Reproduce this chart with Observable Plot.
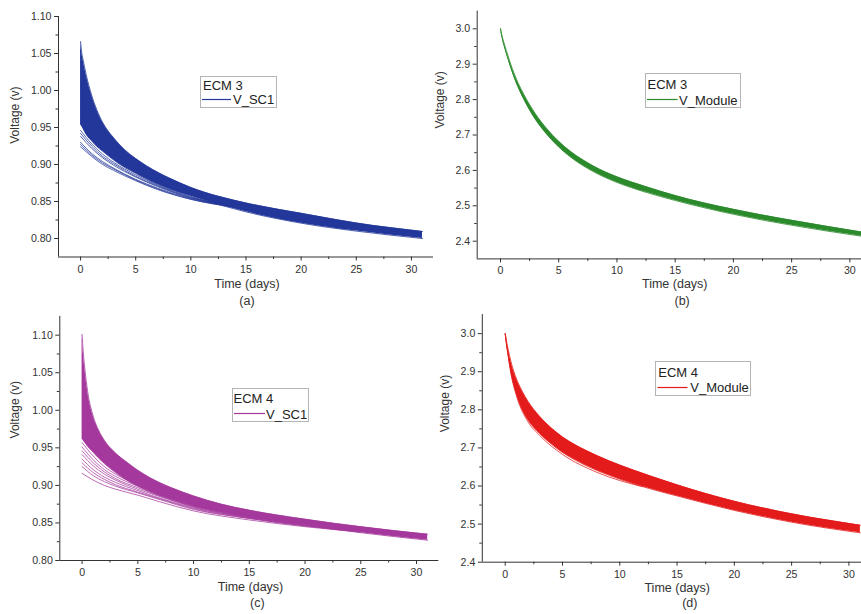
<!DOCTYPE html>
<html>
<head>
<meta charset="utf-8">
<script src="https://cdn.jsdelivr.net/npm/d3@7"></script>
<script src="https://cdn.jsdelivr.net/npm/@observablehq/plot@0.6"></script>
<style>
  body { margin: 0; background: #fff; }
  #fig { position: relative; width: 861px; height: 614px; overflow: hidden;
         font-family: "Liberation Sans", Arial, sans-serif; color: #222; }
  .panel { position: absolute; }
  .legend { position: absolute; border: 1px solid #b4b4b4; background: #fff; box-sizing: border-box; font-size: 13px; }
  .legend span { position: absolute; white-space: nowrap; line-height: 1; }
  .legend svg { position: absolute; left: 0; top: 0; overflow: visible; }
</style>
</head>
<body>
<div id="fig"></div>
<script>
// Self-discharge of the supercapacitor cell (V_SC1) and module (V_Module) over 31 days,
// for equivalent circuit models ECM 3 and ECM 4. Each panel is a bundle of simulated runs:
// the dense part of the bundle is drawn as a band (upper/lower edge), separated runs as lines.

const xTicks = [0, 5, 10, 15, 20, 25, 30];
const xMinor = [2.5, 7.5, 12.5, 17.5, 22.5, 27.5];

// sample times (days) for the band edges
const tBand = [0, 0.1, 0.25, 0.5, 1, 1.5, 2, 3, 4, 5, 6, 8, 10, 12.5, 15, 20, 25, 31];

// (a) ECM 3, V_SC1
const hiA = [1.066, 1.052, 1.040, 1.022, 0.994, 0.973, 0.957, 0.936, 0.920, 0.908, 0.898, 0.882, 0.869, 0.857, 0.848, 0.834, 0.821, 0.8095];
const loA = [0.9545, 0.952, 0.948, 0.941, 0.932, 0.924, 0.918, 0.906, 0.896, 0.888, 0.880, 0.867, 0.857, 0.846, 0.836, 0.8207, 0.810, 0.800];
const runTA = [0, 1, 2, 3, 5, 7, 10, 14];
const runsA = [
  [0.946, 0.928, 0.914, 0.903, 0.886, 0.872, 0.856, 0.844],
  [0.942, 0.925, 0.911, 0.901, 0.884, 0.871, 0.855, 0.844],
  [0.938, 0.922, 0.909, 0.899, 0.883, 0.870, 0.855, 0.843],
  [0.930, 0.915, 0.904, 0.895, 0.880, 0.868, 0.854, 0.843],
  [0.927, 0.913, 0.902, 0.894, 0.879, 0.867, 0.853, 0.843],
  [0.924, 0.911, 0.900, 0.892, 0.878, 0.866, 0.853, 0.842]
];
const yTicksA = [0.80, 0.85, 0.90, 0.95, 1.00, 1.05, 1.10];
const yMinorA = [0.825, 0.875, 0.925, 0.975, 1.025, 1.075];

// (b) ECM 3, V_Module
const hiB = [3.0, 2.985, 2.966, 2.939, 2.889, 2.848, 2.815, 2.760, 2.717, 2.682, 2.654, 2.612, 2.582, 2.554, 2.529, 2.490, 2.459, 2.426];
const loB = [3.0, 2.981, 2.960, 2.931, 2.879, 2.836, 2.801, 2.744, 2.701, 2.666, 2.638, 2.596, 2.566, 2.538, 2.515, 2.476, 2.445, 2.414];
const yTicksB = [2.4, 2.5, 2.6, 2.7, 2.8, 2.9, 3.0];
const yMinorB = [2.45, 2.55, 2.65, 2.75, 2.85, 2.95];

// (c) ECM 4, V_SC1
const hiC = [1.101, 1.078, 1.055, 1.025, 0.992, 0.973, 0.960, 0.943, 0.931, 0.920, 0.911, 0.897, 0.886, 0.875, 0.867, 0.855, 0.845, 0.835];
const loC = [0.962, 0.960, 0.957, 0.952, 0.944, 0.936, 0.929, 0.917, 0.907, 0.899, 0.892, 0.881, 0.872, 0.864, 0.857, 0.847, 0.837, 0.827];
const runTC = [0, 1, 2, 3, 5, 7, 10, 15, 20, 25];
const runsC = [
  [0.957, 0.939, 0.925, 0.915, 0.901, 0.889, 0.874, 0.859, 0.849, 0.839],
  [0.951, 0.934, 0.921, 0.912, 0.899, 0.888, 0.873, 0.859, 0.848, 0.839],
  [0.946, 0.930, 0.918, 0.909, 0.897, 0.886, 0.872, 0.858, 0.848, 0.839],
  [0.941, 0.926, 0.915, 0.907, 0.895, 0.885, 0.871, 0.857, 0.847, 0.839],
  [0.935, 0.921, 0.911, 0.904, 0.893, 0.883, 0.870, 0.857, 0.847, 0.839],
  [0.930, 0.917, 0.908, 0.901, 0.891, 0.882, 0.869, 0.856, 0.846, 0.839],
  [0.925, 0.913, 0.905, 0.899, 0.890, 0.881, 0.868, 0.856, 0.846, 0.838],
  [0.916, 0.907, 0.900, 0.895, 0.887, 0.878, 0.866, 0.854, 0.845, 0.838]
];
const yTicksC = [0.80, 0.85, 0.90, 0.95, 1.00, 1.05, 1.10];
const yMinorC = [0.825, 0.875, 0.925, 0.975, 1.025, 1.075];

// (d) ECM 4, V_Module
const hiD = [3.0, 2.983, 2.960, 2.927, 2.880, 2.848, 2.822, 2.783, 2.753, 2.729, 2.710, 2.680, 2.655, 2.628, 2.603, 2.560, 2.527, 2.497];
const loD = [3.0, 2.975, 2.945, 2.900, 2.840, 2.800, 2.773, 2.738, 2.711, 2.688, 2.670, 2.641, 2.618, 2.594, 2.574, 2.536, 2.505, 2.477];
const runTD = [0, 0.5, 1, 2, 3, 5, 8, 12];
const runsD = [
  [3.0, 2.895, 2.835, 2.768, 2.733, 2.683, 2.636, 2.598]
];
const yTicksD = [2.4, 2.5, 2.6, 2.7, 2.8, 2.9, 3.0];
const yMinorD = [2.45, 2.55, 2.65, 2.75, 2.85, 2.95];

const fig = document.getElementById("fig");
const axisColor = "#333";
const font = "'Liberation Sans', Arial, sans-serif";

function panel(c) {
  const band = tBand.map((t, i) => ({t, hi: c.hi[i], lo: c.lo[i]}));
  const runs = (c.runs || []).flatMap((vals, k) => vals.map((v, i) => ({id: k, t: c.runT[i], v})));
  const svg = Plot.plot({
    width: c.width, height: c.height,
    marginLeft: c.ml, marginRight: c.mr, marginTop: c.mt, marginBottom: c.mb,
    x: {domain: c.xDomain},
    y: {domain: c.yDomain},
    style: {background: "transparent", overflow: "visible", fontFamily: font, color: axisColor},
    marks: [
      Plot.areaY(band, {x: "t", y1: "lo", y2: "hi", fill: c.color, curve: "monotone-x"}),
      Plot.line(band, {x: "t", y: "hi", stroke: c.color, strokeWidth: 0.8, curve: "monotone-x"}),
      Plot.line(band, {x: "t", y: "lo", stroke: c.color, strokeWidth: 0.8, curve: "monotone-x"}),
      Plot.line(runs, {x: "t", y: "v", z: "id", stroke: c.color, strokeWidth: 0.75, curve: "monotone-x"}),
      Plot.ruleX([c.xDomain[0]], {stroke: axisColor, strokeWidth: 1}),
      Plot.ruleY([c.yDomain[0]], {stroke: axisColor, strokeWidth: 1}),
      Plot.axisX(xTicks, {tickSize: 4, tickPadding: 4, fontSize: 10.6, label: null, stroke: axisColor}),
      Plot.axisX(xMinor, {tickSize: 2.5, tickFormat: () => "", label: null, stroke: axisColor}),
      Plot.axisY(c.yTicks, {tickSize: 4, tickPadding: 3, fontSize: 10.6, tickFormat: c.fmt, label: null, stroke: axisColor}),
      Plot.axisY(c.yMinor, {tickSize: 2.5, tickFormat: () => "", label: null, stroke: axisColor}),
      Plot.text(["Time (days)"], {text: d => d, frameAnchor: "bottom", dx: c.tx[0], dy: c.tx[1], fontSize: 12.5, fill: axisColor}),
      Plot.text([c.tag], {text: d => d, frameAnchor: "bottom", dx: c.tg[0], dy: c.tg[1], fontSize: 12.5, fill: axisColor}),
      Plot.text(["Voltage (v)"], {text: d => d, frameAnchor: "left", rotate: -90, dx: c.vl[0], dy: c.vl[1], fontSize: 12, fill: axisColor})
    ]
  });
  const wrap = document.createElement("div");
  wrap.className = "panel";
  wrap.style.left = c.left + "px";
  wrap.style.top = c.top + "px";
  wrap.appendChild(svg);
  fig.appendChild(wrap);

  // legend box: model name, then a line swatch with the series name
  const L = c.legend;
  const box = document.createElement("div");
  box.className = "legend";
  Object.assign(box.style, {left: L.x + "px", top: L.y + "px", width: L.w + "px", height: L.h + "px"});
  box.innerHTML =
    `<span style="left:${L.tx}px;top:${L.ty}px">${c.model}</span>` +
    `<svg width="${L.w}" height="${L.h}"><line x1="${L.s0}" x2="${L.s1}" y1="${L.sy}" y2="${L.sy}" stroke="${c.color}" stroke-width="1.2"/></svg>` +
    `<span style="left:${L.nx}px;top:${L.ny}px">${c.series}</span>`;
  fig.appendChild(box);
}

const f2 = d3.format(".2f"), f1 = d3.format(".1f");

panel({
  left: 0, top: 0, width: 440, height: 300, ml: 58, mr: 7, mt: 16, mb: 43.5,
  xDomain: [-2, 32], yDomain: [0.775, 1.10], yTicks: yTicksA, yMinor: yMinorA, fmt: f2,
  hi: hiA, lo: loA, runT: runTA, runs: runsA, color: "#23379a",
  tag: "(a)", tx: [1, 30.5], tg: [1, 47.5], vl: [-43, 7],
  model: "ECM 3", series: "V_SC1",
  legend: {x: 200, y: 76, w: 77, h: 32, tx: 2, ty: 2, s0: 1, s1: 30, sy: 22.5, nx: 32, ny: 16}
});

panel({
  left: 425, top: 0, width: 436, height: 300, ml: 51.7, mr: 0, mt: 10.6, mb: 41.6,
  xDomain: [-2, 31], yDomain: [2.35, 3.05], yTicks: yTicksB, yMinor: yMinorB, fmt: f1,
  hi: hiB, lo: loB, color: "#2b8a2b",
  tag: "(b)", tx: [5.4, 28.9], tg: [12.8, 45.6], vl: [-36.7, -6.5],
  model: "ECM 3", series: "V_Module",
  legend: {x: 645, y: 72.7, w: 95.5, h: 35, tx: 1.5, ty: 4, s0: 1, s1: 31.5, sy: 25.5, nx: 33, ny: 20}
});

panel({
  left: 0, top: 300, width: 440, height: 314, ml: 59.3, mr: 1.7, mt: 15.9, mb: 54,
  xDomain: [-2, 32], yDomain: [0.80, 1.125], yTicks: yTicksC, yMinor: yMinorC, fmt: f2,
  hi: hiC, lo: loC, runT: runTC, runs: runsC, color: "#a4389c",
  tag: "(c)", tx: [1.2, 30], tg: [8, 46.7], vl: [-44.3, 0],
  model: "ECM 4", series: "V_SC1",
  legend: {x: 231.5, y: 387.7, w: 77, h: 34, tx: 1, ty: 3, s0: 1, s1: 32, sy: 24.5, nx: 33.5, ny: 19}
});

panel({
  left: 425, top: 300, width: 436, height: 314, ml: 56.8, mr: 0, mt: 14.1, mb: 52.3,
  xDomain: [-2, 31.1], yDomain: [2.4, 3.05], yTicks: yTicksD, yMinor: yMinorD, fmt: f1,
  hi: hiD, lo: loD, runT: runTD, runs: runsD, color: "#e41b1b",
  tag: "(d)", tx: [5.3, 30], tg: [17.9, 45], vl: [-36.8, -6.2],
  model: "ECM 4", series: "V_Module",
  legend: {x: 655.3, y: 360.7, w: 96, h: 35.5, tx: 2, ty: 4, s0: 1.5, s1: 31.5, sy: 25.5, nx: 34, ny: 19.5}
});
</script>
</body>
</html>
